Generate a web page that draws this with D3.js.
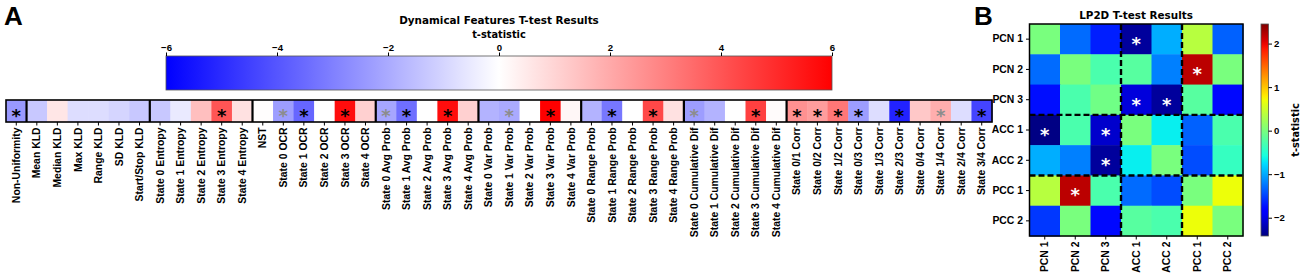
<!DOCTYPE html>
<html>
<head>
<meta charset="utf-8">
<script src="https://cdn.jsdelivr.net/npm/d3@7"></script>
<style>
  body { margin: 0; background: #fff; }
  svg { display: block; font-family: "DejaVu Sans", sans-serif; font-weight: bold; }
</style>
</head>
<body>
<div id="chart"></div>
<script>
// ---- panel A data ----
const featureNames = [
  "Non-Uniformity", "Mean KLD", "Median KLD", "Max KLD", "Range KLD", "SD KLD", "Start/Stop KLD",
  "State 0 Entropy", "State 1 Entropy", "State 2 Entropy", "State 3 Entropy", "State 4 Entropy",
  "NST", "State 0 OCR", "State 1 OCR", "State 2 OCR", "State 3 OCR", "State 4 OCR",
  "State 0 Avg Prob", "State 1 Avg Prob", "State 2 Avg Prob", "State 3 Avg Prob", "State 4 Avg Prob",
  "State 0 Var Prob", "State 1 Var Prob", "State 2 Var Prob", "State 3 Var Prob", "State 4 Var Prob",
  "State 0 Range Prob", "State 1 Range Prob", "State 2 Range Prob", "State 3 Range Prob", "State 4 Range Prob",
  "State 0 Cumulative Dif", "State 1 Cumulative Dif", "State 2 Cumulative Dif", "State 3 Cumulative Dif", "State 4 Cumulative Dif",
  "State 0/1 Corr", "State 0/2 Corr", "State 1/2 Corr", "State 0/3 Corr", "State 1/3 Corr",
  "State 2/3 Corr", "State 0/4 Corr", "State 1/4 Corr", "State 2/4 Corr", "State 3/4 Corr"
];
const featureT = [
  -2.4, -1.3, 0.6, -0.8, -0.8, -1.0, -1.3,
  -1.3, -0.5, 1.5, 4.0, 0.7,
  0.05, -2.3, -3.6, 0.0, 5.7, 1.1,
  -2.1, -3.4, 0.0, 5.7, 1.1,
  -1.8, -2.0, 0.0, 6.0, 0.2,
  -1.8, -3.2, 0.0, 4.3, 0.7,
  -2.3, -1.8, 0.0, 4.5, 0.1,
  2.6, 2.3, 3.2, -2.3, -0.8,
  -5.2, 1.3, 1.9, -0.8, -4.4
];
// 2 = black star, 1 = grey star, 0 = none
const featureSig = [
  2, 0, 0, 0, 0, 0, 0,
  0, 0, 0, 2, 0,
  0, 1, 2, 0, 2, 0,
  1, 2, 0, 2, 0,
  0, 1, 0, 2, 0,
  0, 2, 0, 2, 0,
  1, 0, 0, 2, 0,
  2, 2, 2, 2, 0,
  2, 0, 1, 0, 2
];
const featureGroupEnds = [1, 7, 12, 18, 23, 28, 33, 38];
const tTicksA = [-6, -4, -2, 0, 2, 4, 6];

// ---- panel B data ----
const regions = ["PCN 1", "PCN 2", "PCN 3", "ACC 1", "ACC 2", "PCC 1", "PCC 2"];
const lp2dT = [
  [ 0.00, -1.30, -1.67, -2.30, -0.98,  0.37, -1.35],
  [-1.30,  0.00, -0.28, -0.20, -1.20,  2.20,  0.00],
  [-1.75, -0.28, -0.05, -2.03, -2.30, -0.20, -1.78],
  [-2.40, -0.28, -2.10,  0.00, -0.67, -1.35, -0.28],
  [-0.98, -1.20, -2.30, -0.67,  0.00, -1.45, -0.40],
  [ 0.37,  2.20, -0.28, -1.30, -1.45,  0.00,  0.69],
  [-1.55,  0.00, -1.78, -0.20, -0.28,  0.69,  0.00]
];
const lp2dSig = [[0, 3], [1, 5], [2, 3], [2, 4], [3, 0], [3, 2], [4, 2], [5, 1]];
const regionBreaks = [3, 5];
const tTicksB = [-2, -1, 0, 1, 2];
const tRangeB = [-2.42, 2.45];

const W = 1302, H = 275;
const tickFont = "10.4px";
const svg = d3.select("#chart").append("svg")
  .attr("width", W).attr("height", H)
  .attr("viewBox", `0 0 ${W} ${H}`);

const defs = svg.append("defs");

// bwr colormap
const bwr = d3.scaleLinear().domain([-6, 0, 6]).range(["#0000ff", "#ffffff", "#ff0000"]).clamp(true);

// jet colormap (matplotlib segment data)
const jetR = d3.scaleLinear().domain([0, 0.35, 0.66, 0.89, 1]).range([0, 0, 1, 1, 0.5]).clamp(true);
const jetG = d3.scaleLinear().domain([0, 0.125, 0.375, 0.64, 0.91, 1]).range([0, 0, 1, 1, 0, 0]).clamp(true);
const jetB = d3.scaleLinear().domain([0, 0.11, 0.34, 0.65, 1]).range([0.5, 1, 1, 0, 0]).clamp(true);
const jet = t => d3.rgb(jetR(t) * 255, jetG(t) * 255, jetB(t) * 255).toString();
const normB = d3.scaleLinear().domain(tRangeB).range([0, 1]).clamp(true);

// ================= Panel A =================
svg.append("text").attr("x", 4).attr("y", 25)
  .style("font-family", "'Liberation Sans', Arial, sans-serif")
  .style("font-size", "26px").text("A");

const xA = d3.scaleBand().domain(featureNames).range([6, 992]);
const rowTop = 100, rowBot = 122;

svg.append("text").attr("x", 499).attr("y", 24).attr("text-anchor", "middle")
  .style("font-size", "10.4px").text("Dynamical Features T-test Results");

// colorbar A
const cbA = d3.scaleLinear().domain([-6, 6]).range([166, 832]);
const gradA = defs.append("linearGradient").attr("id", "gradA");
d3.range(0, 1.0001, 0.05).forEach(f => {
  gradA.append("stop").attr("offset", f).attr("stop-color", bwr(-6 + 12 * f));
});
svg.append("rect").attr("x", cbA(-6)).attr("y", 56)
  .attr("width", cbA(6) - cbA(-6)).attr("height", 34)
  .attr("fill", "url(#gradA)").attr("stroke", "#555").attr("stroke-width", 0.8);
svg.append("g").attr("transform", "translate(0,56)")
  .call(d3.axisTop(cbA).tickValues(tTicksA).tickFormat(d3.format("d")).tickSize(3.5).tickPadding(2))
  .call(g => g.select(".domain").remove())
  .call(g => g.selectAll("text").style("font-size", "9.6px").attr("fill", "#000"))
  .call(g => g.selectAll("line").attr("stroke", "#000"));
svg.append("text").attr("x", 499).attr("y", 38).attr("text-anchor", "middle")
  .style("font-size", "9.8px").text("t-statistic");

// heatmap row
svg.append("g").selectAll("rect").data(featureNames).join("rect")
  .attr("x", d => xA(d)).attr("y", rowTop)
  .attr("width", xA.bandwidth() + 0.5).attr("height", rowBot - rowTop)
  .attr("fill", (d, i) => bwr(featureT[i]));

svg.append("g").selectAll("text").data(featureNames.filter((d, i) => featureSig[i] > 0)).join("text")
  .attr("x", d => xA(d) + xA.bandwidth() / 2)
  .attr("y", (rowTop + rowBot) / 2).attr("dy", "0.6em")
  .attr("text-anchor", "middle")
  .style("font-size", "18px")
  .attr("fill", d => featureSig[featureNames.indexOf(d)] === 2 ? "#000" : "#8c8c8c")
  .text("*");

svg.append("g").selectAll("line").data(featureGroupEnds).join("line")
  .attr("x1", d => xA(featureNames[d])).attr("x2", d => xA(featureNames[d]))
  .attr("y1", rowTop).attr("y2", rowBot)
  .attr("stroke", "#000").attr("stroke-width", 2.2);

svg.append("rect").attr("x", 6).attr("y", rowTop).attr("width", 986).attr("height", rowBot - rowTop)
  .attr("fill", "none").attr("stroke", "#000").attr("stroke-width", 1.6);

svg.append("g").attr("transform", `translate(0,${rowBot})`)
  .call(d3.axisBottom(xA).tickSize(3.5))
  .call(g => g.select(".domain").remove())
  .call(g => g.selectAll("line").attr("stroke", "#000"))
  .call(g => g.selectAll("text")
    .attr("transform", "rotate(-90)")
    .attr("text-anchor", "end")
    .attr("x", -5.5).attr("y", 0).attr("dy", "0.35em")
    .attr("fill", "#000")
    .style("font-size", tickFont));

// ================= Panel B =================
svg.append("text").attr("x", 974).attr("y", 25)
  .style("font-family", "'Liberation Sans', Arial, sans-serif")
  .style("font-size", "26px").text("B");

const xB = d3.scaleBand().domain(regions).range([1029.5, 1243]);
const yB = d3.scaleBand().domain(regions).range([24, 236]);

svg.append("text").attr("x", 1136).attr("y", 19).attr("text-anchor", "middle")
  .style("font-size", "10.4px").text("LP2D T-test Results");

const cells = [];
lp2dT.forEach((row, i) => row.forEach((v, j) => cells.push({ r: regions[i], c: regions[j], v })));
svg.append("g").selectAll("rect").data(cells).join("rect")
  .attr("x", d => xB(d.c)).attr("y", d => yB(d.r))
  .attr("width", xB.bandwidth() + 0.5).attr("height", yB.bandwidth() + 0.5)
  .attr("fill", d => jet(normB(d.v)));

svg.append("g").selectAll("text").data(lp2dSig).join("text")
  .attr("x", d => xB(regions[d[1]]) + xB.bandwidth() / 2)
  .attr("y", d => yB(regions[d[0]]) + yB.bandwidth() / 2).attr("dy", "0.6em")
  .attr("text-anchor", "middle").attr("fill", "#fff")
  .style("font-size", "18px").text("*");

const dash = svg.append("g").attr("stroke", "#000").attr("stroke-width", 2.4).attr("stroke-dasharray", "6,3");
dash.selectAll("line.v").data(regionBreaks).join("line").attr("class", "v")
  .attr("x1", d => xB(regions[d])).attr("x2", d => xB(regions[d]))
  .attr("y1", 24).attr("y2", 236);
dash.selectAll("line.h").data(regionBreaks).join("line").attr("class", "h")
  .attr("y1", d => yB(regions[d])).attr("y2", d => yB(regions[d]))
  .attr("x1", 1029.5).attr("x2", 1243);

svg.append("rect").attr("x", 1029.5).attr("y", 24).attr("width", 1243 - 1029.5).attr("height", 212)
  .attr("fill", "none").attr("stroke", "#000").attr("stroke-width", 1.5);

svg.append("g").attr("transform", "translate(1029.5,0)")
  .call(d3.axisLeft(yB).tickSize(3.5))
  .call(g => g.select(".domain").remove())
  .call(g => g.selectAll("line").attr("stroke", "#000"))
  .call(g => g.selectAll("text").attr("fill", "#000").style("font-size", tickFont));

svg.append("g").attr("transform", "translate(0,236)")
  .call(d3.axisBottom(xB).tickSize(3.5))
  .call(g => g.select(".domain").remove())
  .call(g => g.selectAll("line").attr("stroke", "#000"))
  .call(g => g.selectAll("text")
    .attr("transform", "rotate(-90)")
    .attr("text-anchor", "end")
    .attr("x", -5.5).attr("y", 0).attr("dy", "0.35em")
    .attr("fill", "#000")
    .style("font-size", tickFont));

// colorbar B
const cbB = d3.scaleLinear().domain(tRangeB).range([236, 24]);
const gradB = defs.append("linearGradient").attr("id", "gradB")
  .attr("x1", 0).attr("y1", 1).attr("x2", 0).attr("y2", 0);
d3.range(0, 1.0001, 0.02).forEach(f => {
  gradB.append("stop").attr("offset", f).attr("stop-color", jet(f));
});
svg.append("rect").attr("x", 1261).attr("y", 24).attr("width", 7.5).attr("height", 212)
  .attr("fill", "url(#gradB)").attr("stroke", "#555").attr("stroke-width", 0.8);
svg.append("g").attr("transform", "translate(1268.5,0)")
  .call(d3.axisRight(cbB).tickValues(tTicksB).tickFormat(d3.format("d")).tickSize(3.5).tickPadding(2))
  .call(g => g.select(".domain").remove())
  .call(g => g.selectAll("line").attr("stroke", "#000"))
  .call(g => g.selectAll("text").attr("fill", "#000").style("font-size", "9.6px"));
svg.append("text").attr("transform", "translate(1296,130) rotate(-90)")
  .attr("text-anchor", "middle").attr("dy", "0.35em")
  .style("font-size", "9.8px").text("t-statistic");
</script>
</body>
</html>
